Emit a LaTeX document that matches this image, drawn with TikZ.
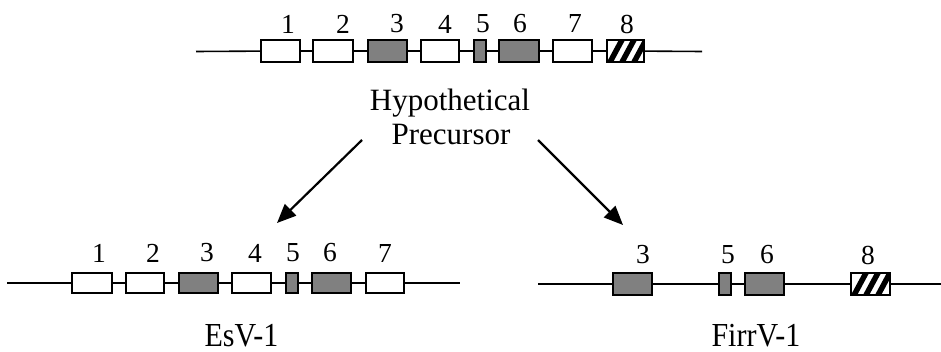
\documentclass[tikz,border=0pt]{standalone}
\usepackage{fontspec}
\setmainfont{Liberation Serif}
\usetikzlibrary{arrows.meta,calc}

\definecolor{exongray}{RGB}{128,128,128}

\tikzset{
  exon/.style={draw=black, line width=1.7pt, fill=white, inner sep=0pt,
               minimum height=#1},
  exon/.default=21pt,
  shaded/.style={fill=exongray},
  hatched/.style={path picture={
      \foreach \b/\t in {2/16, 14/28, 26/40}{
        \draw[line width=5.5pt,line cap=butt]
          ($(path picture bounding box.south west)+(\b,2)$) --
          ($(path picture bounding box.south west)+(\t,-24)$);
      }}},
  num/.style={inner sep=0pt, font=\fontsize{27.5}{30}\selectfont},
  title/.style={inner sep=0pt, anchor=base, font=\fontsize{31}{36}\selectfont},
  strain/.style={inner sep=0pt, anchor=base, font=\fontsize{30}{36}\selectfont},
  backbone/.style={line width=1.6pt},
  branch/.style={line width=2.2pt, -{Triangle[length=19pt,width=16pt]}}
}

\begin{document}
\begin{tikzpicture}[x=1pt,y=-1pt]
\useasboundingbox (0,0) rectangle (941,352);

% ---------- hypothetical precursor: exons 1-8 ----------
\coordinate (pL) at (196,51.5);
\coordinate (pR) at (702,51.5);
\node[exon=22pt, minimum width=39pt] (p1) at (280.5,51) {};
\node[exon=22pt, minimum width=40pt] (p2) at (333,51) {};
\node[exon=22pt, minimum width=39pt, shaded] (p3) at (387.5,51) {};
\node[exon=22pt, minimum width=38pt] (p4) at (440,51) {};
\node[exon=22pt, minimum width=12pt, shaded] (p5) at (480,51) {};
\node[exon=22pt, minimum width=40pt, shaded] (p6) at (519,51) {};
\node[exon=22pt, minimum width=39pt] (p7) at (572.5,51) {};
\node[exon=22pt, minimum width=37pt, hatched] (p8) at (625.5,51) {};
\draw[backbone] (pL) -- (p1) -- (p2) -- (p3) -- (p4) -- (p5) -- (p6) -- (p7) -- (p8) -- (pR);

\foreach \n/\x in {1/288, 2/343, 3/397, 4/445, 5/483, 6/520, 7/575, 8/627}
  \node[num] (pn\n) at (\x,24) {\n};

\node[title] (hyp) at (450,111) {Hypothetical};
\node[title] (pre) at (451,145) {Precursor};

% ---------- branches ----------
\coordinate (aLs) at (362,140);
\coordinate (aLe) at (277,223);
\coordinate (aRs) at (538,140);
\coordinate (aRe) at (623,225);
\draw[branch] (aLs) -- (aLe);
\draw[branch] (aRs) -- (aRe);

% ---------- EsV-1: exons 1-7 ----------
\coordinate (eL) at (7,283);
\coordinate (eR) at (460,283);
\node[exon=20pt, minimum width=40pt] (e1) at (92,283) {};
\node[exon=20pt, minimum width=38pt] (e2) at (145,283) {};
\node[exon=20pt, minimum width=39pt, shaded] (e3) at (198.5,283) {};
\node[exon=20pt, minimum width=39pt] (e4) at (251.5,283) {};
\node[exon=20pt, minimum width=12pt, shaded] (e5) at (292,283) {};
\node[exon=20pt, minimum width=39pt, shaded] (e6) at (331.5,283) {};
\node[exon=20pt, minimum width=38pt] (e7) at (385,283) {};
\draw[backbone] (eL) -- (e1) -- (e2) -- (e3) -- (e4) -- (e5) -- (e6) -- (e7) -- (eR);

\foreach \n/\x in {1/99, 2/153, 3/207, 4/255, 5/293, 6/330, 7/385}
  \node[num] (en\n) at (\x,253) {\n};

\node[strain] (esv) at (241.5,346) {\scalebox{1}[1.12]{EsV-1}};

% ---------- FirrV-1: exons 3, 5, 6, 8 ----------
\coordinate (fL) at (538,284);
\coordinate (fR) at (941,284);
\node[exon=22pt, minimum width=39pt, shaded] (f3) at (632.5,284) {};
\node[exon=22pt, minimum width=12pt, shaded] (f5) at (725,284) {};
\node[exon=22pt, minimum width=39pt, shaded] (f6) at (764.5,284) {};
\node[exon=22pt, minimum width=39pt, hatched] (f8) at (870.5,284) {};
\draw[backbone] (fL) -- (f3) -- (f5) -- (f6) -- (f8) -- (fR);

\foreach \n/\x in {3/643, 5/728, 6/767, 8/868}
  \node[num] (fn\n) at (\x,255) {\n};

\node[strain] (firr) at (756,346) {\scalebox{1}[1.12]{FirrV-1}};
\end{tikzpicture}
\end{document}
